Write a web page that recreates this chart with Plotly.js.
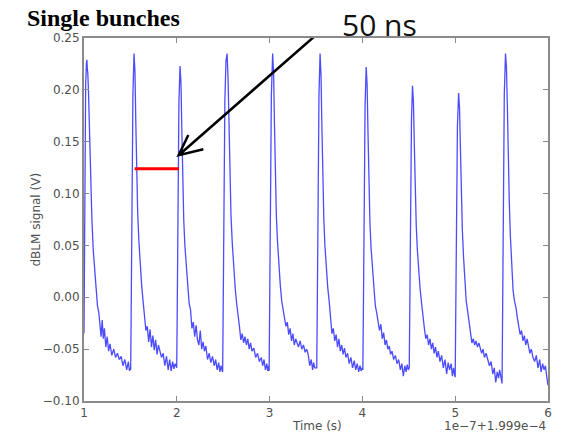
<!DOCTYPE html>
<html>
<head>
<meta charset="utf-8">
<script src="https://cdn.plot.ly/plotly-3.0.1.min.js"></script>
<style>
html,body{margin:0;padding:0;background:#fff;}
#chart{width:563px;height:433px;}
</style>
</head>
<body>
<div id="chart"></div>
<script>
// Time axis values (units: 1e-7 s, offset 1.999e-4 s) and dBLM signal (V), one pulse per array
const t1 = [1.000, 1.004, 1.010, 1.018, 1.026, 1.031, 1.036, 1.041, 1.048, 1.058, 1.070, 1.085, 1.100, 1.115, 1.130, 1.145, 1.160, 1.172, 1.184, 1.196, 1.208, 1.220, 1.235, 1.250, 1.265, 1.280, 1.300, 1.320, 1.340, 1.360, 1.380, 1.400, 1.420, 1.440, 1.460, 1.478, 1.490, 1.498];
const v1 = [-0.035, 0.040, 0.140, 0.205, 0.226, 0.229, 0.220, 0.216, 0.200, 0.160, 0.112, 0.075, 0.045, 0.024, 0.006, -0.008, -0.015, -0.024, -0.038, -0.022, -0.040, -0.030, -0.048, -0.038, -0.052, -0.045, -0.056, -0.050, -0.058, -0.054, -0.060, -0.057, -0.066, -0.060, -0.070, -0.062, -0.071, -0.068];

const t2 = [1.503, 1.508, 1.515, 1.527, 1.539, 1.549, 1.559, 1.569, 1.579, 1.591, 1.605, 1.621, 1.637, 1.652, 1.667, 1.682, 1.697, 1.712, 1.727, 1.742, 1.757, 1.772, 1.787, 1.802, 1.817, 1.835, 1.853, 1.871, 1.889, 1.907, 1.923, 1.939, 1.955, 1.969, 1.981, 1.993];
const v2 = [-0.070, -0.018, 0.100, 0.195, 0.235, 0.218, 0.165, 0.112, 0.080, 0.055, 0.032, 0.012, -0.004, -0.020, -0.032, -0.028, -0.043, -0.031, -0.048, -0.037, -0.051, -0.041, -0.055, -0.046, -0.053, -0.058, -0.054, -0.066, -0.057, -0.070, -0.060, -0.071, -0.062, -0.069, -0.064, -0.067];

const t3 = [1.999, 2.004, 2.011, 2.023, 2.035, 2.045, 2.055, 2.065, 2.075, 2.087, 2.101, 2.117, 2.133, 2.148, 2.163, 2.178, 2.193, 2.208, 2.223, 2.238, 2.253, 2.268, 2.283, 2.298, 2.313, 2.331, 2.349, 2.367, 2.385, 2.403, 2.419, 2.435, 2.451, 2.465, 2.477, 2.489];
const v3 = [-0.068, -0.020, 0.092, 0.188, 0.223, 0.206, 0.158, 0.108, 0.074, 0.050, 0.030, 0.012, -0.006, -0.012, -0.030, -0.024, -0.038, -0.027, -0.041, -0.046, -0.032, -0.050, -0.043, -0.052, -0.047, -0.060, -0.054, -0.063, -0.057, -0.066, -0.060, -0.070, -0.063, -0.072, -0.066, -0.071];

const t4 = [2.494, 2.499, 2.506, 2.518, 2.530, 2.542, 2.552, 2.562, 2.572, 2.584, 2.598, 2.614, 2.630, 2.645, 2.660, 2.675, 2.690, 2.705, 2.720, 2.735, 2.750, 2.765, 2.780, 2.795, 2.810, 2.830, 2.850, 2.870, 2.890, 2.910, 2.925, 2.940, 2.955, 2.970, 2.980, 2.990];
const v4 = [-0.072, -0.020, 0.100, 0.190, 0.228, 0.235, 0.212, 0.160, 0.110, 0.078, 0.052, 0.028, 0.008, -0.006, -0.015, -0.028, -0.041, -0.035, -0.044, -0.038, -0.046, -0.040, -0.050, -0.044, -0.052, -0.049, -0.058, -0.054, -0.062, -0.058, -0.066, -0.060, -0.070, -0.064, -0.071, -0.066];

const t5 = [2.995, 3.000, 3.007, 3.019, 3.033, 3.043, 3.053, 3.063, 3.073, 3.085, 3.099, 3.115, 3.131, 3.146, 3.161, 3.176, 3.191, 3.206, 3.221, 3.236, 3.251, 3.266, 3.281, 3.296, 3.311, 3.329, 3.347, 3.365, 3.383, 3.401, 3.417, 3.433, 3.449, 3.463, 3.475, 3.487];
const v5 = [-0.071, -0.020, 0.100, 0.195, 0.235, 0.216, 0.165, 0.112, 0.078, 0.054, 0.032, 0.012, -0.004, -0.012, -0.022, -0.028, -0.024, -0.036, -0.030, -0.042, -0.035, -0.046, -0.040, -0.044, -0.048, -0.042, -0.050, -0.046, -0.053, -0.050, -0.056, -0.066, -0.060, -0.070, -0.063, -0.068];

const t6 = [3.508, 3.513, 3.520, 3.532, 3.544, 3.554, 3.564, 3.574, 3.584, 3.596, 3.610, 3.626, 3.642, 3.657, 3.672, 3.687, 3.702, 3.717, 3.732, 3.747, 3.762, 3.777, 3.792, 3.807, 3.822, 3.840, 3.858, 3.876, 3.894, 3.912, 3.928, 3.944, 3.960, 3.974, 3.986, 3.998];
const v6 = [-0.068, -0.018, 0.100, 0.195, 0.235, 0.214, 0.162, 0.108, 0.076, 0.050, 0.028, 0.010, -0.004, -0.018, -0.035, -0.030, -0.042, -0.036, -0.048, -0.040, -0.052, -0.046, -0.055, -0.049, -0.058, -0.054, -0.064, -0.058, -0.068, -0.061, -0.070, -0.064, -0.072, -0.066, -0.071, -0.068];

const t7 = [4.005, 4.010, 4.017, 4.029, 4.041, 4.051, 4.061, 4.071, 4.081, 4.093, 4.107, 4.123, 4.139, 4.154, 4.169, 4.184, 4.199, 4.214, 4.229, 4.244, 4.259, 4.274, 4.289, 4.304, 4.319, 4.337, 4.355, 4.373, 4.391, 4.409, 4.425, 4.441, 4.457, 4.471, 4.483, 4.495];
const v7 = [-0.070, -0.020, 0.090, 0.186, 0.222, 0.204, 0.156, 0.106, 0.072, 0.048, 0.028, 0.008, -0.008, -0.015, -0.022, -0.032, -0.026, -0.040, -0.034, -0.046, -0.041, -0.050, -0.047, -0.055, -0.052, -0.060, -0.056, -0.064, -0.060, -0.070, -0.064, -0.076, -0.066, -0.072, -0.065, -0.070];

const t8 = [4.505, 4.510, 4.517, 4.529, 4.540, 4.550, 4.560, 4.570, 4.580, 4.592, 4.606, 4.622, 4.638, 4.653, 4.668, 4.683, 4.698, 4.713, 4.728, 4.743, 4.758, 4.773, 4.788, 4.803, 4.818, 4.836, 4.854, 4.872, 4.890, 4.908, 4.924, 4.940, 4.956, 4.970, 4.982, 4.994];
const v8 = [-0.068, -0.022, 0.085, 0.172, 0.204, 0.188, 0.145, 0.100, 0.070, 0.046, 0.026, 0.008, -0.006, -0.020, -0.030, -0.040, -0.036, -0.046, -0.040, -0.050, -0.044, -0.054, -0.048, -0.058, -0.052, -0.062, -0.056, -0.068, -0.060, -0.074, -0.063, -0.070, -0.064, -0.076, -0.068, -0.075];

const t9 = [5.000, 5.005, 5.012, 5.024, 5.037, 5.047, 5.057, 5.067, 5.077, 5.089, 5.103, 5.119, 5.135, 5.150, 5.165, 5.180, 5.195, 5.210, 5.225, 5.240, 5.255, 5.270, 5.285, 5.300, 5.315, 5.333, 5.351, 5.369, 5.387, 5.405, 5.421, 5.437, 5.453, 5.467, 5.479, 5.493];
const v9 = [-0.077, -0.025, 0.080, 0.165, 0.197, 0.182, 0.140, 0.095, 0.065, 0.040, 0.018, -0.004, -0.014, -0.024, -0.036, -0.044, -0.040, -0.046, -0.042, -0.048, -0.044, -0.050, -0.054, -0.050, -0.058, -0.054, -0.060, -0.066, -0.062, -0.074, -0.068, -0.082, -0.072, -0.078, -0.070, -0.077];

const t10 = [5.505, 5.510, 5.517, 5.529, 5.542, 5.552, 5.562, 5.572, 5.582, 5.594, 5.608, 5.624, 5.640, 5.655, 5.670, 5.685, 5.700, 5.715, 5.730, 5.745, 5.760, 5.775, 5.790, 5.805, 5.820, 5.838, 5.856, 5.874, 5.892, 5.910, 5.926, 5.942, 5.958, 5.972, 5.986, 6.000];
const v10 = [-0.083, -0.025, 0.100, 0.195, 0.235, 0.222, 0.185, 0.130, 0.095, 0.060, 0.030, 0.006, -0.004, -0.010, -0.020, -0.030, -0.036, -0.032, -0.042, -0.037, -0.046, -0.040, -0.048, -0.054, -0.050, -0.058, -0.062, -0.056, -0.068, -0.060, -0.072, -0.064, -0.070, -0.066, -0.076, -0.085];

// 50 ns spacing marker (red) and arrow annotation (data coordinates)
const spacingX = [1.546, 2.024];
const spacingY = [0.124, 0.124];
const arrowTail = [3.489, 0.252];
const arrowTip = [2.020, 0.137];
const arrowArmA = [2.124, 0.1565];
const arrowArmB = [2.286, 0.1427];

const yTicks = [-0.10, -0.05, 0.00, 0.05, 0.10, 0.15, 0.20, 0.25];
const xTicks = [1, 2, 3, 4, 5, 6];

const time = [].concat(t1, t2, t3, t4, t5, t6, t7, t8, t9, t10);
const signal = [].concat(v1, v2, v3, v4, v5, v6, v7, v8, v9, v10);

const grey = '#8a8a8a';
const lab = '#505050';
const tickFont = {family: 'DejaVu Sans, sans-serif', size: 12, color: lab};

const data = [
  {x: time, y: signal, type: 'scatter', mode: 'lines',
   line: {color: 'rgba(45,45,255,0.85)', width: 1.3}, hoverinfo: 'skip'},
  {x: spacingX, y: spacingY, type: 'scatter', mode: 'lines',
   line: {color: '#ff0000', width: 3}, hoverinfo: 'skip'}
];

const axisCommon = {
  showgrid: false, zeroline: false, showline: true, linecolor: grey, linewidth: 2,
  mirror: 'ticks', ticks: 'inside', ticklen: 5, tickwidth: 1, tickcolor: grey,
  tickfont: tickFont
};

const layout = {
  width: 563, height: 433,
  margin: {l: 84, r: 15, t: 38, b: 32},
  paper_bgcolor: '#fff', plot_bgcolor: '#fff',
  showlegend: false,
  title: {text: '<b>Single bunches</b>', x: 27/563, xref: 'container', xanchor: 'left',
          y: 1 - 18/433, yref: 'container', yanchor: 'middle',
          font: {family: 'Liberation Serif, serif', size: 24, color: '#000'}},
  xaxis: Object.assign({}, axisCommon, {range: [1, 6], tickvals: xTicks, ticktext: xTicks.map(String)}),
  yaxis: Object.assign({}, axisCommon, {range: [-0.10, 0.25], tickvals: yTicks,
          ticktext: yTicks.map(v => (v < 0 ? '\u2212' : '') + Math.abs(v).toFixed(2))}),
  shapes: [
    {type: 'path', xref: 'x', yref: 'y', layer: 'above',
     path: 'M' + arrowTail[0] + ',' + arrowTail[1] + ' L' + arrowTip[0] + ',' + arrowTip[1] +
           ' M' + arrowArmA[0] + ',' + arrowArmA[1] + ' L' + arrowTip[0] + ',' + arrowTip[1] +
           ' L' + arrowArmB[0] + ',' + arrowArmB[1],
     line: {color: '#000', width: 2.5}}
  ],
  annotations: [
    {text: '50 ns', xref: 'paper', yref: 'paper', x: (379-84)/464, y: (401-24)/363,
     xanchor: 'center', yanchor: 'middle', showarrow: false,
     font: {family: 'Open Sans, sans-serif', size: 30, color: '#111'}},
    {text: 'Time (s)', xref: 'paper', yref: 'paper', x: (317-84)/464, y: -25/363,
     xanchor: 'center', yanchor: 'middle', showarrow: false, font: tickFont},
    {text: '1e\u22127+1.999e\u22124', xref: 'paper', yref: 'paper', x: 1, y: -25/363,
     xanchor: 'right', yanchor: 'middle', showarrow: false, font: tickFont},
    {text: 'dBLM signal (V)', xref: 'paper', yref: 'paper', x: (35-84)/464, y: 0.5,
     xanchor: 'center', yanchor: 'middle', textangle: -90, showarrow: false, font: tickFont}
  ]
};

Plotly.newPlot('chart', data, layout, {displayModeBar: false, staticPlot: true});
</script>
</body>
</html>
